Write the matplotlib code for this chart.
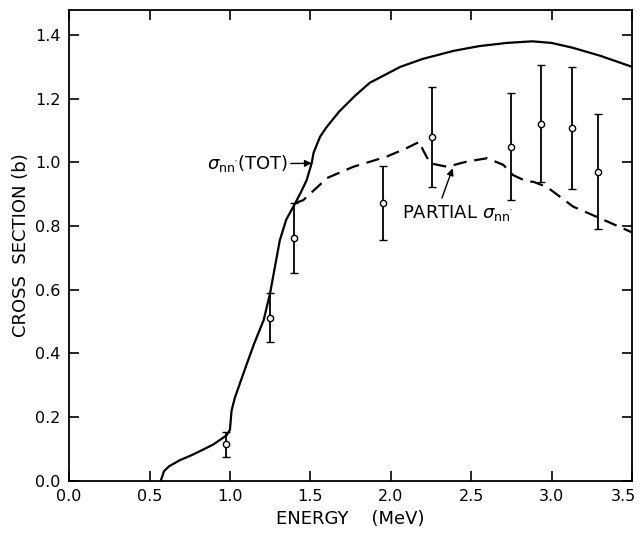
import matplotlib
matplotlib.use("Agg")
import matplotlib.pyplot as plt
from matplotlib.ticker import FormatStrFormatter
from matplotlib.transforms import ScaledTranslation

# Total inelastic cross section (solid curve)
tot_energy = [0.57, 0.59, 0.62, 0.69, 0.76, 0.83, 0.90, 0.98, 1.00, 1.01, 1.03,
              1.10, 1.15, 1.21, 1.25, 1.31, 1.35, 1.405, 1.44, 1.477, 1.508, 1.52,
              1.56, 1.60, 1.68, 1.78, 1.87, 2.06, 2.20, 2.39, 2.55, 2.72, 2.88,
              3.00, 3.13, 3.30, 3.50]
tot_sigma = [0.0, 0.03, 0.045, 0.065, 0.08, 0.097, 0.115, 0.143, 0.16, 0.22, 0.26,
             0.36, 0.43, 0.505, 0.59, 0.755, 0.82, 0.871, 0.905, 0.944, 0.997, 1.03,
             1.08, 1.11, 1.16, 1.21, 1.25, 1.30, 1.325, 1.35, 1.365, 1.375, 1.38,
             1.375, 1.36, 1.335, 1.30]

# Partial inelastic cross section (dashed curve)
part_energy = [1.40, 1.455, 1.56, 1.60, 1.767, 1.975, 2.10, 2.18, 2.20, 2.245,
               2.35, 2.47, 2.60, 2.70, 2.76, 2.845, 2.886, 2.97, 3.134, 3.28, 3.50]
part_sigma = [0.871, 0.881, 0.93, 0.95, 0.986, 1.018, 1.045, 1.065, 1.039, 0.997,
              0.986, 1.002, 1.013, 0.992, 0.96, 0.94, 0.939, 0.923, 0.861, 0.829, 0.78]

# Measured points with error bars
meas_energy = [0.974, 1.25, 1.40, 1.95, 2.258, 2.75, 2.933, 3.124, 3.29]
meas_sigma = [0.115, 0.51, 0.761, 0.871, 1.078, 1.049, 1.119, 1.107, 0.969]
meas_low = [0.075, 0.437, 0.651, 0.756, 0.923, 0.882, 0.939, 0.915, 0.79]
meas_high = [0.152, 0.589, 0.872, 0.99, 1.237, 1.217, 1.306, 1.30, 1.152]

x_ticks = [0.0, 0.5, 1.0, 1.5, 2.0, 2.5, 3.0, 3.5]
y_ticks = [0.0, 0.2, 0.4, 0.6, 0.8, 1.0, 1.2, 1.4]

plt.rcParams['font.family'] = ['DejaVu Sans']

fig = plt.figure(figsize=(6.4, 5.33), dpi=100)
ax = fig.add_axes([0.108, 0.098, 0.8795, 0.883])

ax.plot(tot_energy, tot_sigma, color='black', lw=1.6, solid_capstyle='round')
ax.plot(part_energy, part_sigma, color='black', lw=1.6, dashes=(6, 3.5))

yerr = [[s - lo for s, lo in zip(meas_sigma, meas_low)],
        [hi - s for s, hi in zip(meas_sigma, meas_high)]]
ax.errorbar(meas_energy, meas_sigma, yerr=yerr, fmt='o', ms=4.5,
            mfc='white', mec='black', mew=1.0, ecolor='black',
            elinewidth=1.3, capsize=3, capthick=1.2, zorder=3)

ax.set_xlim(0.0, 3.5)
ax.set_ylim(0.0, 1.478)
ax.set_xticks(x_ticks)
ax.set_yticks(y_ticks)
ax.xaxis.set_major_formatter(FormatStrFormatter('%.1f'))
ax.yaxis.set_major_formatter(FormatStrFormatter('%.1f'))
ax.tick_params(direction='in', length=7, width=1.2, top=True, right=True,
               labelsize=11.5, pad=6)
for sp in ax.spines.values():
    sp.set_linewidth(1.3)

# keep the last energy label inside the figure
fig.canvas.draw()
last = ax.get_xticklabels()[-1]
last.set_transform(last.get_transform() +
                   ScaledTranslation(-6 / 72, 0, fig.dpi_scale_trans))

ax.set_xlabel('ENERGY    (MeV)', fontsize=13, labelpad=4)
ax.set_ylabel('CROSS  SECTION (b)', fontsize=13, labelpad=4)

ax.annotate(r"$\sigma_{\mathregular{nn'}}$(TOT)", xy=(1.508, 0.997),
            xytext=(1.36, 0.995), fontsize=13, ha='right', va='center',
            arrowprops=dict(arrowstyle='-|>', color='black', lw=1.0,
                            mutation_scale=10, shrinkA=0, shrinkB=0))
ax.annotate(r"PARTIAL $\sigma_{\mathregular{nn'}}$", xy=(2.385, 0.981),
            xytext=(2.07, 0.84), fontsize=13, ha='left', va='center')
ax.annotate('', xy=(2.385, 0.981), xytext=(2.318, 0.888),
            arrowprops=dict(arrowstyle='-|>', color='black', lw=1.0,
                            mutation_scale=10, shrinkA=0, shrinkB=0))

fig.savefig('out.png', dpi=100)
